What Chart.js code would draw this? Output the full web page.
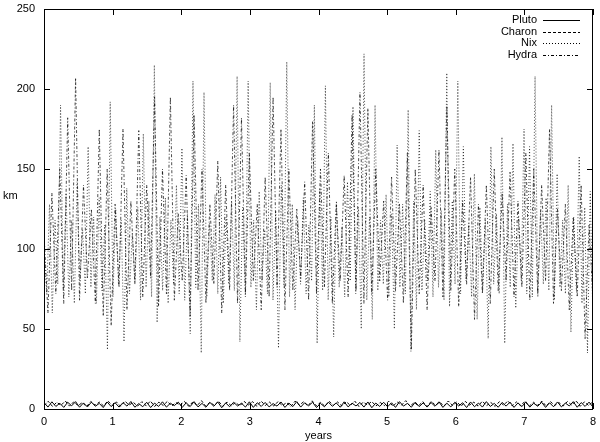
<!DOCTYPE html>
<html>
<head>
<meta charset="utf-8">
<script src="https://cdn.jsdelivr.net/npm/chart.js@4"></script>
<style>
    html, body { margin: 0; padding: 0; background: #fff; }
    #wrap { width: 600px; height: 442px; }
</style>
</head>
<body>
<div id="wrap"><canvas id="orbitChart" width="600" height="442"></canvas></div>
<script>
// Pluto system - barycentric offsets over 8 years

const xTicks = [0, 1, 2, 3, 4, 5, 6, 7, 8];
const yTicks = [0, 50, 100, 150, 200, 250];
const seriesNames = ['Pluto', 'Charon', 'Nix', 'Hydra'];

// small wobble near zero (peak / trough pairs)
const plutoKm = [
    4.1,1.2,4.5,1.6,3.6,1.0,4.2,2.0,4.6,1.1,3.8,1.3,4.3,1.7,3.5,0.9,4.4,1.5,3.9,1.2,
    4.0,1.8,4.7,1.1,3.4,1.4,4.2,0.9,3.7,1.6,4.5,1.2,3.6,2.1,4.3,1.0,3.9,1.5,4.6,1.3,
    3.5,1.1,4.1,1.7,4.4,0.8,3.8,1.4,4.2,1.9,3.6,1.2,4.5,1.0,3.9,1.6,4.1,1.3,3.4,1.8,
    4.4,1.0,3.7,1.5,4.6,1.2,3.9,2.0,4.2,0.9,3.5,1.4,4.3,1.7,3.8,1.1,4.5,1.3,3.6,1.9,
    4.1,1.2,4.4,0.8,3.7,1.6,4.2,1.4,3.9,1.0,4.6,1.8,3.5,1.1,4.3,1.5,3.8,1.2,4.0,1.7,
    4.5,1.0,3.6,1.3,4.2,1.9,3.9,0.9,4.4,1.4,3.7,1.2,4.6,1.6,3.5,1.1,4.1,1.8,4.3,1.0,
    3.8,1.5,4.5,1.2,3.6,1.7,4.2,1.0,3.9,1.4,4.4,1.3,3.7,1.9,4.6,1.1,4.0,1.6,4.3,1.2
];

const charonKm = [
    2.0,4.8,1.6,4.2,2.3,5.0,1.8,4.5,2.1,4.0,1.5,4.7,2.4,4.3,1.9,5.1,2.2,4.4,1.7,4.9,
    2.5,4.1,1.8,4.6,2.0,5.0,1.6,4.3,2.2,4.8,1.9,4.0,2.4,4.7,1.7,4.5,2.1,5.2,1.8,4.2,
    2.3,4.9,1.6,4.4,2.0,4.1,1.9,4.8,2.5,4.6,1.7,5.0,2.2,4.3,1.8,4.7,2.1,4.0,1.6,4.9,
    2.4,4.5,1.9,5.1,2.0,4.2,1.7,4.8,2.3,4.4,1.8,4.6,2.2,5.0,1.6,4.3,2.5,4.7,1.9,4.1,
    2.1,4.9,1.7,4.4,2.4,5.2,1.8,4.0,2.0,4.6,1.6,4.8,2.3,4.2,1.9,5.0,2.2,4.5,1.7,4.7,
    2.5,4.3,1.8,4.9,2.1,4.1,1.6,4.6,2.4,5.1,1.9,4.4,2.0,4.8,1.7,4.2,2.3,5.0,1.8,4.6,
    2.2,4.0,1.9,4.7,2.4,5.2,1.7,4.5,2.1,4.8
];

// Nix swings, read as peak / trough pairs
const nixKm = [
    100,72,128,60,118,78,190,74,135,70, 118,66,142,80,112,72,164,76,120,66,
    132,74,115,37,192,70,125,78,118,42, 138,72,110,80,126,68,172,76,130,70,
    215,54,120,74,132,66,118,78,140,72, 163,68,122,47,205,76,128,35,198,70,
    116,80,134,72,145,66,120,78,130,74, 208,42,126,70,205,76,118,62,136,80,
    112,72,204,68,124,38,140,76,217,70, 128,62,118,78,132,72,115,80,190,41,
    138,74,202,68,120,45,130,76,114,70, 142,80,189,72,126,50,222,68,120,56,
    190,74,118,78,134,70,122,50,165,76, 128,72,187,36,130,62,174,74,118,80,
    136,70,162,76,124,68,210,64,130,78, 205,72,164,80,116,70,147,56,126,74,
    118,44,164,78,122,72,170,41,128,76, 166,63,120,80,175,72,164,70,208,70,
    124,78,132,74,190,68,147,76,118,72, 140,48,120,74,158,66,126,35,136,54
];

const hydraKm = [
    110,60,135,72,150,66,182,74,207,68, 140,82,125,66,175,58,150,52,128,76,
    175,62,130,78,174,70,140,82,195,64, 150,72,195,68,122,80,146,58,184,74,
    150,66,128,78,155,60,140,74,190,66, 182,72,160,80,128,62,145,70,195,76,
    175,62,150,74,125,82,142,68,180,72, 150,76,160,66,128,80,146,70,184,74,
    198,66,188,72,150,80,130,68,145,74, 128,66,160,37,150,72,140,62,126,80,
    162,70,189,74,150,64,130,78,145,56, 128,72,140,66,150,74,135,80,148,70,
    130,76,160,68,150,72,140,80,175,66, 125,74,128,62,120,70,140,44,115,68
];

const FONT = '"Liberation Sans", Arial, sans-serif';

// spread each series evenly over the 8 years
function toPoints(values) {
    const step = xTicks[xTicks.length - 1] / (values.length - 1);
    return values.map((v, i) => ({ x: i * step, y: v }));
}

const dashes = [[], [3, 2], [1, 2], [3, 2, 1, 2]];
const widths = [1, 1, 0.7, 0.7];

const datasets = [plutoKm, charonKm, nixKm, hydraKm].map((vals, i) => ({
    label: seriesNames[i],
    data: toPoints(vals),
    borderColor: '#000',
    borderWidth: widths[i],
    borderDash: dashes[i],
    pointRadius: 0,
    tension: 0,
    fill: false
}));

// gnuplot style frame, inward ticks, key and axis words
const framePlugin = {
    id: 'frame',
    afterDraw(chart) {
        const ctx = chart.ctx;
        const { left, right, top, bottom } = chart.chartArea;
        const xs = chart.scales.x;
        const ys = chart.scales.y;

        ctx.save();
        ctx.strokeStyle = '#000';
        ctx.lineWidth = 1;
        ctx.setLineDash([]);
        ctx.strokeRect(left + 0.5, top + 0.5, right - left - 1, bottom - top);

        ctx.beginPath();
        yTicks.forEach(v => {
            const py = Math.round(ys.getPixelForValue(v)) + 0.5;
            ctx.moveTo(left, py); ctx.lineTo(left + 6, py);
            ctx.moveTo(right - 6, py); ctx.lineTo(right, py);
        });
        xTicks.forEach(v => {
            const px = Math.round(xs.getPixelForValue(v)) + 0.5;
            ctx.moveTo(px, bottom); ctx.lineTo(px, bottom - 6);
            ctx.moveTo(px, top); ctx.lineTo(px, top + 6);
        });
        ctx.stroke();

        // key
        ctx.font = '11px ' + FONT;
        ctx.fillStyle = '#000';
        ctx.textBaseline = 'middle';
        chart.data.datasets.forEach((ds, i) => {
            const y = 20 + i * 11.5;
            ctx.textAlign = 'right';
            ctx.fillText(ds.label, 537, y);
            ctx.lineWidth = 1;
            ctx.setLineDash(ds.borderDash);
            ctx.beginPath();
            ctx.moveTo(543, Math.round(y) + 0.5);
            ctx.lineTo(580, Math.round(y) + 0.5);
            ctx.stroke();
        });
        ctx.setLineDash([]);

        // axis words
        ctx.textAlign = 'left';
        ctx.fillText('km', 3, 196);
        ctx.textAlign = 'center';
        ctx.fillText('years', (left + right) / 2, 436);
        ctx.restore();
    }
};

new Chart(document.getElementById('orbitChart'), {
    type: 'line',
    data: { datasets: datasets },
    options: {
        responsive: false,
        animation: false,
        devicePixelRatio: 1,
        layout: { padding: { top: 9, right: 7, left: 0, bottom: 0 } },
        plugins: {
            legend: { display: false },
            tooltip: { enabled: false }
        },
        scales: {
            x: {
                type: 'linear',
                min: 0,
                max: 8,
                afterFit: s => { s.height = 33; s.paddingLeft = 0; s.paddingRight = 0; },
                afterBuildTicks: s => { s.ticks = xTicks.map(v => ({ value: v })); },
                ticks: { color: '#000', padding: 6, maxRotation: 0, font: { family: FONT, size: 11 } },
                grid: { display: false, drawTicks: false },
                border: { display: false }
            },
            y: {
                min: 0,
                max: 250,
                afterFit: s => { s.width = 44; s.paddingTop = 0; s.paddingBottom = 0; },
                afterBuildTicks: s => { s.ticks = yTicks.map(v => ({ value: v })); },
                ticks: { color: '#000', padding: 9, font: { family: FONT, size: 11 } },
                grid: { display: false, drawTicks: false },
                border: { display: false }
            }
        }
    },
    plugins: [framePlugin]
});
</script>
</body>
</html>
